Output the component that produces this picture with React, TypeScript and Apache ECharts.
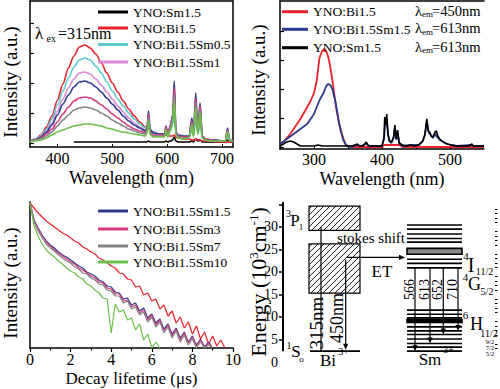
import React, { useEffect, useRef } from 'react';
import * as echarts from 'echarts';

const FONT = 'Liberation Serif, Times New Roman, DejaVu Serif, serif';

// ---------- Panel 1: emission spectra (λex = 315 nm) ----------
const X1 = [350,360,370,380,390,400,410,420,430,440,
  450,460,470,480,490,500,510,520,530,540,
  550,560,563,566,569,575,585,595,598,601,
  606,610,613,616,620,630,640,645,648,652,
  656,660,664,670,680,690,700,706,710,714,
  720];
const X1_LABELS = [400, 500, 600, 700];
const EM_SM15 = [null,null,null,null,null,null,null,null,1,1, 1,1,1,1,1,1,1,1,1,1, 1,1,1,2,1,1,1,1,2,1, 2,3,6,2,1,1,1,2,1,4, 2,3,1,1,1,1,1,1,3,1, 1];
const EM_BI15 = [2,4,8,16,27,43,59,75,87,96, 98,95,89,80,70,60,51,42,34,27, 21,16,15,14,13,11,9,8,8,7, 7,7,8,6,5,4,4,3,3,4, 3,3,2,2,2,1,1,1,1,1, 1];
const EM_SM05 = [2,4,7,14,24,38,52,65,76,83, 85,83,77,70,61,52,44,37,30,24, 19,15,15,22,14,11,9,9,13,9, 12,18,30,10,7,6,6,12,8,22, 9,17,6,4,3,3,2,2,7,2, 2];
const EM_SM1 = [2,3,6,12,20,32,44,55,64,70, 71,69,64,58,51,44,37,31,25,20, 16,13,14,27,13,10,9,9,15,9, 15,24,46,10,7,6,6,17,8,35, 10,28,6,4,3,3,2,2,10,2, 2];
const EM_SM15B = [2,3,6,11,18,28,39,48,56,61, 62,60,56,51,45,39,33,27,22,18, 15,12,14,32,13,10,9,9,17,9, 18,28,62,11,8,7,7,25,9,50, 12,40,7,4,3,3,2,2,15,3, 2];
const EM_SM3 = [2,3,5,9,14,21,29,36,42,45, 46,45,42,38,34,29,25,21,17,14, 12,10,12,29,11,8,8,8,16,8, 17,26,55,10,7,6,6,22,8,45, 11,37,6,4,3,2,2,2,13,2, 2];
const EM_SM7 = [2,3,4,7,11,17,23,28,33,35, 36,35,33,30,27,23,20,17,14,12, 10,9,11,26,10,7,7,7,14,7, 15,24,48,9,6,5,5,20,7,40, 10,33,5,3,2,2,2,2,12,2, 2];
const EM_SM10 = [1,2,3,5,8,11,13,15,17,18, 19,19,18,17,15,14,12,11,10,9, 8,7,9,22,8,6,6,6,13,6, 13,21,42,8,5,4,5,18,6,36, 9,30,5,3,2,2,2,2,11,2, 2];

// ---------- Panel 2: excitation spectra ----------
const X2_LABELS = [300, 400, 500];
const EX_BI15 = [[250,3],[255,5],[260,9],[265,13],[270,18],[275,23],[280,28],[285,34],[290,40],[295,46],[300,54],[304,66],[308,89],[312,96],[315,98],[318,96],[321,90],[324,80],[328,62],[333,37],[337,24],[341,13],[346,3],[350,1],[356,0],[400,0],[403,2],[426,2],[430,0],[550,0]];
const EX_BI15SM15 = [[250,3],[260,8],[270,13],[280,18],[290,23],[295,28],[300,33],[304,40],[309,48],[314,54],[318,61],[321,63],[324,62],[327,58],[331,47],[334,36],[336,27],[339,17],[343,7],[348,1],[355,0],[360,1],[364,2],[368,1],[377,3],[382,1],[400,1],[403,8],[405,28],[407,25],[409,12],[411,6],[414,4],[417,9],[419,19],[421,7],[423,14],[426,3],[430,1],[442,2],[454,2],[460,6],[463,12],[466,24],[469,14],[472,12],[475,9],[478,13],[481,10],[485,7],[490,5],[496,3],[502,2],[510,1],[532,2],[536,1],[550,1]];
const EX_SM15 = [[250,1],[255,3],[260,5],[265,6],[270,5],[275,3],[280,1],[290,1],[300,1],[306,2],[312,1],[330,1],[350,1],[356,1],[360,2],[364,3],[367,1],[372,1],[377,5],[380,1],[394,1],[400,1],[403,10],[404,30],[406,22],[407,33],[409,12],[411,6],[414,5],[417,10],[419,22],[421,8],[423,17],[425,4],[430,2],[436,1],[442,2],[448,1],[454,2],[460,6],[463,12],[465,24],[466,28],[468,16],[470,15],[472,11],[475,10],[478,15],[480,16],[482,11],[485,8],[490,5],[496,3],[502,2],[510,1],[520,1],[528,1],[532,3],[534,1],[550,1]];
const EM_WAVELENGTHS = ['450', '613', '613'];

// ---------- Panel 3: decay curves ----------
const T3 = [0,0.2,0.4,0.6,0.8,1,1.2,1.4,1.6,1.8,2,2.2,2.4,2.6,2.8,3,3.2,3.4,3.6,3.8,4,4.2,4.4,4.6,4.8,5,5.2,5.4,5.6,5.8,6,6.2,6.4,6.6,6.8,7,7.2,7.4,7.6,7.8,8,8.2,8.4,8.6,8.8,9,9.2,9.4,9.6,9.8,10];
const DEC_BI15 = [145,140,135,131,127,124, 121,118,115,113,110, 107,105,101,99,96, 94,90,88,85,82, 80,75,74,69,68, 61,62,53,55,47, 49,39,43,32,37, 25,31,20,26,14, 22,9,16,4,12, 2,8,0,null,null];
const DEC_SM15 = [145,128,120,113,107,103, 100,96,93,91,88, 85,82,80,76,74, 72,68,66,62,61, 56,55,49,50,43, 45,37,40,30,34, 25,29,19,24,14, 20,10,16,6,12, 3,9,1,6,0, null,null,null,null,null];
const DEC_SM3 = [145,127,119,112,106,102, 98,95,92,89,86, 84,80,78,75,72, 70,66,65,60,59, 54,54,47,48,41, 43,35,38,28,33, 23,28,17,23,12, 19,8,15,5,11, 2,8,0,5,0, null,null,null,null,null];
const DEC_SM7 = [145,126,117,110,104,100, 97,93,90,87,85, 81,79,75,74,70, 68,64,63,58,57, 52,52,45,47,39, 41,33,36,26,31, 21,26,15,21,10, 17,6,13,3,9, 0,6,0,3,0, null,null,null,null,null];
const DEC_SM10 = [145,122,112,104,98,94, 91,87,84,80,77, 75,71,69,64,62, 58,55,50,49,15, 44,36,38,28,30, 18,24,8,14,0, 6,0,null,null,null, null,null,null,null,null, null,null,null,null,null, null,null,null,null,null];

// ---------- Panel 4: energy level diagram (10^3 cm^-1) ----------
const ENERGY_LABELS = [0, 5, 10, 15, 20, 25, 30];
const ENERGY_MAJOR = [5, 10, 15, 20, 25, 30, 35];
const ENERGY_MINOR = [3,4,6,7,8,9,11,12,13,14,16,17,18,19,21,22,23,24,26,27,28,29,31,32,33,34];
const BI_BAND_E = [[29.2, 34.6], [15.3, 26.2]];
const BI_GROUND_E = 2.4;
const EXC_TOP_E = 30.0;
const BI_EMIT_E = [22.7, 2.7];
const ET_E = 23.2;
const SM_LEVEL_E = [30.4, 29.5, 28.4, 27.4, 26.6, 22.8, 21.9, 20.9, 11.5, 10.6, 9.8, 7.8, 6.9, 6.1, 5.1, 4.1, 3.3, 2.4];
const SM_BAND_E = [[23.9, 25.2], [8.8, 9.5]];
const G52_E = 20.9;
const EMISSION_NM = ['566', '613', '652', '710'];
const EMISSION_END_E = [2.4, 4.1, 6.1, 6.9];
const AXIS_E = [2.4, 35.5];

// layout of the diagram (horizontal units ≈ px right of the energy axis)
const BI_X = [26, 77];
const SM_X = [124, 179];
const EXC_X = 38;
const EMIT_X = 62.7;
const ET_X = [63.7, 122];
const EMISSION_X = [132, 147, 160.3, 175];

const C = {
  black: '#000000', red: '#e8232b', cyan: '#5cc9cf', pink: '#d78ad6',
  navy: '#2e3a8c', crimson: '#d63a80', gray: '#858585', green: '#6cc04a',
};

function lineSeries(name, data, color, xi, yi, width, smooth) {
  return {
    type: 'line', name, data, xAxisIndex: xi, yAxisIndex: yi,
    symbol: 'none', showSymbol: false, silent: true,
    smooth: smooth || false, smoothMonotone: 'x',
    lineStyle: { color, width }, itemStyle: { color },
    connectNulls: false,
  };
}

function arrowParts(p0, p1, head, lw) {
  const dx = p1[0] - p0[0], dy = p1[1] - p0[1];
  const len = Math.hypot(dx, dy) || 1;
  const ux = dx / len, uy = dy / len;
  const L = 6, W = 2.6;
  const out: any[] = [];
  const end = head ? [p1[0] - ux * L * 0.7, p1[1] - uy * L * 0.7] : p1;
  out.push({ type: 'line', shape: { x1: p0[0], y1: p0[1], x2: end[0], y2: end[1] }, style: { stroke: '#000', lineWidth: lw } });
  if (head) {
    out.push({ type: 'polygon', shape: { points: [[p1[0], p1[1]], [p1[0] - ux * L - uy * W, p1[1] - uy * L + ux * W], [p1[0] - ux * L + uy * W, p1[1] - uy * L - ux * W]] }, style: { fill: '#000' } });
  }
  return out;
}

function txt(text, x, y, size, align = 'left', rot = 0) {
  return {
    type: 'text', x, y, rotation: rot, silent: true,
    style: { text, fontSize: size, fontFamily: FONT, fill: '#000', align, verticalAlign: 'middle' },
  };
}

function buildOption() {
  const axisLine = { show: true, onZero: false, lineStyle: { color: '#000', width: 1.5 } };
  const labelStyle = { color: '#000', fontFamily: FONT, fontSize: 16, lineHeight: 13 };
  const nameStyle = { color: '#000', fontFamily: FONT, fontSize: 19 };
  const frame = (gi, pos) => ({
    gridIndex: gi, type: 'value', position: pos, min: 0, max: 1,
    axisLine, axisTick: { show: false }, axisLabel: { show: false }, splitLine: { show: false },
  });
  const mk1 = (ys) => X1.map((x, i) => [x, ys[i]]);
  const mk3 = (ys) => T3.map((t, i) => [t, ys[i]]);

  const legendCommon = {
    orient: 'horizontal', itemWidth: 30, itemHeight: 3, icon: 'rect', padding: 0, itemGap: 0,
    selectedMode: false,
    textStyle: { fontFamily: FONT, fontSize: 13.5, color: '#000', lineHeight: 12 },
  };
  const legends = [
    { ...legendCommon, data: ['YNO:Sm1.5'], left: 98, top: 5 },
    { ...legendCommon, data: ['YNO:Bi1.5'], left: 98, top: 21 },
    { ...legendCommon, data: ['YNO:Bi1.5Sm0.5'], left: 98, top: 37.5 },
    { ...legendCommon, data: ['YNO:Bi1.5Sm1'], left: 98, top: 55 },
    { ...legendCommon, itemWidth: 26, data: ['YNO:Bi1.5'], left: 282, top: 4.7 },
    { ...legendCommon, itemWidth: 26, data: ['YNO:Bi1.5Sm1.5'], left: 282, top: 22.3 },
    { ...legendCommon, itemWidth: 26, data: ['YNO:Sm1.5'], left: 282, top: 40.7 },
    { ...legendCommon, data: ['YNO:Bi1.5Sm1.5'], left: 98, top: 204 },
    { ...legendCommon, data: ['YNO:Bi1.5Sm3'], left: 98, top: 222 },
    { ...legendCommon, data: ['YNO:Bi1.5Sm7'], left: 98, top: 239 },
    { ...legendCommon, data: ['YNO:Bi1.5Sm10'], left: 98, top: 255 },
  ];

  const graphics: any[] = [
    txt('λ', 35, 33, 17), txt('ex', 46.5, 38.5, 10), txt('=315nm', 58, 33, 16),
  ];
  [10.7, 28.3, 46.7].forEach((y, i) => {
    graphics.push(txt('λ', 415, y, 14.5), txt('em', 422, y + 3.5, 9), txt('=' + EM_WAVELENGTHS[i] + 'nm', 432, y, 14.5));
  });
  graphics.push(
    txt('3', 288.5, 213, 10, 'center'), txt('P', 295, 220, 17, 'center'), txt('1', 301, 226.5, 9, 'center'),
    txt('1', 289, 345, 10, 'center'), txt('S', 296, 351, 17, 'center'), txt('o', 301.5, 358.5, 9, 'center'),
    txt('315nm', 316, 323, 19, 'center', Math.PI / 2),
    txt('450nm', 337, 318, 18, 'center', Math.PI / 2),
    txt('stokes shift', 371, 238, 15, 'center'),
    txt('ET', 382, 271.5, 17, 'center'),
    txt('Bi', 328, 360, 17, 'center'), txt('3+', 343.5, 351, 10, 'center'),
    txt('Sm', 430, 359, 17, 'center'), txt('3+', 448.5, 349, 10, 'center'),
    txt('4', 466, 256, 11, 'center'), txt('I', 471, 265, 20, 'center'), txt('11/2', 484.5, 271.5, 10, 'center'),
    txt('4', 465.5, 277, 11, 'center'), txt('G', 474.5, 284, 18, 'center'), txt('5/2', 487, 291.5, 10, 'center'),
    txt('6', 465.5, 314.5, 11, 'center'), txt('H', 476.5, 323.5, 18, 'center'), txt('11/2', 489, 333.3, 10, 'center'),
    txt('9/2', 490, 341.8, 6.5, 'center'), txt('7/2', 490, 347.6, 6.5, 'center'), txt('5/2', 490, 353.4, 6.5, 'center'),
  );

  const custom = (data, renderItem, encode = { x: 0, y: 1 }) => ({
    type: 'custom', xAxisIndex: 5, yAxisIndex: 4, data, renderItem, encode, silent: true, clip: false,
  });

  const boxSeries = custom(BI_BAND_E.map((b) => [BI_X[0], b[0], BI_X[1], b[1]]), (params, api) => {
    const a = api.coord([api.value(0), api.value(3)]);
    const b = api.coord([api.value(2), api.value(1)]);
    const L = a[0], T = a[1], R = b[0], B = b[1];
    const children: any[] = [];
    const s = 6;
    for (let k = L + T + s / 2; k < R + B; k += s) {
      const xa = Math.max(L, k - B), xb = Math.min(R, k - T);
      if (xb > xa) children.push({ type: 'line', shape: { x1: xa, y1: k - xa, x2: xb, y2: k - xb }, style: { stroke: '#000', lineWidth: 0.9 } });
    }
    children.push({ type: 'rect', shape: { x: L, y: T, width: R - L, height: B - T }, style: { fill: 'none', stroke: '#000', lineWidth: 1.2 } });
    return { type: 'group', children };
  }, { x: [0, 2], y: [1, 3] });

  const levelData = SM_LEVEL_E.map((e) => [SM_X[0], e, SM_X[1]]);
  levelData.push([BI_X[0] + 1, BI_GROUND_E, BI_X[1]]);
  const levelSeries = custom(levelData, (params, api) => {
    const a = api.coord([api.value(0), api.value(1)]);
    const b = api.coord([api.value(2), api.value(1)]);
    return { type: 'line', shape: { x1: a[0], y1: a[1], x2: b[0], y2: b[1] }, style: { stroke: '#000', lineWidth: 1.7 } };
  }, { x: [0, 2], y: 1 });

  const bandSeries = custom(SM_BAND_E.map((b, i) => [SM_X[0], b[0], SM_X[1], b[1], i]), (params, api) => {
    const a = api.coord([api.value(0), api.value(3)]);
    const b = api.coord([api.value(2), api.value(1)]);
    const dark = api.value(4) === 1;
    return { type: 'rect', shape: { x: a[0], y: a[1], width: b[0] - a[0], height: b[1] - a[1] }, style: { fill: dark ? '#000' : '#8a8a8a', stroke: '#000', lineWidth: 1.6 } };
  }, { x: [0, 2], y: [1, 3] });

  const arrowData = [
    [0, AXIS_E[0], 0, AXIS_E[1], 0, 2],
    [EXC_X, BI_GROUND_E, EXC_X, EXC_TOP_E, 0, 1.2],
    [EMIT_X, BI_EMIT_E[0], EMIT_X, BI_EMIT_E[1], 1, 1.2],
    [ET_X[0], ET_E, ET_X[1], ET_E, 1, 1.2],
  ];
  const arrowSeries = custom(arrowData, (params, api) => {
    const p0 = api.coord([api.value(0), api.value(1)]);
    const p1 = api.coord([api.value(2), api.value(3)]);
    return { type: 'group', children: arrowParts(p0, p1, api.value(4) === 1, api.value(5)) };
  }, { x: [0, 2], y: [1, 3] });

  const emissionSeries = custom(EMISSION_X.map((x, i) => [x, G52_E, EMISSION_END_E[i]]), (params, api) => {
    const x = api.value(0);
    const p0 = api.coord([x, api.value(1)]);
    const p1 = api.coord([x, api.value(2)]);
    const lp = api.coord([x, 16.1]);
    const children = arrowParts(p0, p1, true, 1.2);
    children.push({
      type: 'text', x: lp[0] - 5.8, y: lp[1], rotation: Math.PI / 2,
      style: { text: EMISSION_NM[params.dataIndex], fontSize: 14, fontFamily: FONT, fill: '#000', align: 'center', verticalAlign: 'middle' },
    });
    return { type: 'group', children };
  }, { x: 0, y: [1, 2] });

  return {
    animation: false,
    backgroundColor: '#ffffff',
    textStyle: { fontFamily: FONT },
    legend: legends,
    graphic: graphics,
    grid: [
      { left: 30, top: 1, width: 203, height: 146, containLabel: false, outerBoundsMode: 'none' },
      { left: 280, top: 1, width: 204, height: 148, containLabel: false, outerBoundsMode: 'none' },
      { left: 30, top: 202, width: 203, height: 146, containLabel: false, outerBoundsMode: 'none' },
      { left: 283, top: 202, width: 212, height: 160, containLabel: false, outerBoundsMode: 'none' },
    ],
    xAxis: [
      {
        gridIndex: 0, type: 'value', min: 350, max: 720, axisLine,
        axisTick: { show: true, inside: true, length: 3, customValues: X1_LABELS, lineStyle: { color: '#000' } },
        axisLabel: { ...labelStyle, customValues: X1_LABELS, margin: 5 },
        splitLine: { show: false },
        name: 'Wavelength (nm)', nameLocation: 'middle', nameGap: 24.5, nameMoveOverlap: false,
        nameTextStyle: { ...nameStyle, fontSize: 18, lineHeight: 13 },
      },
      frame(0, 'top'),
      {
        gridIndex: 1, type: 'value', min: 250, max: 550, axisLine,
        axisTick: { show: true, inside: true, length: 3, customValues: [300, 350, 400, 450, 500], lineStyle: { color: '#000' } },
        axisLabel: { ...labelStyle, customValues: X2_LABELS, margin: 4 },
        splitLine: { show: false },
        name: 'Wavelength (nm)', nameLocation: 'middle', nameGap: 23.5, nameMoveOverlap: false,
        nameTextStyle: { ...nameStyle, fontSize: 18, lineHeight: 13 },
      },
      frame(1, 'top'),
      {
        gridIndex: 2, type: 'value', min: 0, max: 10, interval: 2, axisLine,
        axisTick: { show: true, inside: false, length: 4, lineStyle: { color: '#000', width: 1.2 } },
        minorTick: { show: true, splitNumber: 2, length: 2.5, lineStyle: { color: '#000', width: 1.2 } },
        axisLabel: { ...labelStyle, margin: 5 },
        splitLine: { show: false },
        name: 'Decay lifetime (μs)', nameLocation: 'middle', nameGap: 24.2, nameMoveOverlap: false,
        nameTextStyle: { ...nameStyle, fontSize: 17, lineHeight: 13 },
      },
      { gridIndex: 3, type: 'value', min: 0, max: 212, show: false },
    ],
    yAxis: [
      {
        gridIndex: 0, type: 'value', min: -4, max: 142, axisLine,
        axisTick: { show: true, inside: true, length: 4, customValues: [0, 30, 60, 90, 120], lineStyle: { color: '#000', width: 1.2 } },
        axisLabel: { show: false }, splitLine: { show: false },
        name: 'Intensity (a.u.)', nameLocation: 'middle', nameRotate: 90, nameGap: 10, nameMoveOverlap: false,
        nameTextStyle: { ...nameStyle, padding: [0, 16, 0, 0] },
      },
      frame(0, 'right'),
      {
        gridIndex: 1, type: 'value', min: -2, max: 146, axisLine,
        axisTick: { show: true, inside: true, length: 4, customValues: [0, 29, 58, 87, 116], lineStyle: { color: '#000', width: 1.2 } },
        axisLabel: { show: false }, splitLine: { show: false },
        name: 'Intensity (a.u.)', nameLocation: 'middle', nameRotate: 90, nameGap: 12, nameMoveOverlap: false,
        nameTextStyle: { ...nameStyle, padding: [0, 10, 0, 0] },
      },
      {
        gridIndex: 2, type: 'value', min: 0, max: 146, axisLine,
        axisTick: { show: false }, axisLabel: { show: false }, splitLine: { show: false },
        name: 'Intensity (a.u.)', nameLocation: 'middle', nameRotate: 90, nameGap: 10, nameMoveOverlap: false,
        nameTextStyle: { ...nameStyle, padding: [0, 16, 0, 0] },
      },
      {
        gridIndex: 3, type: 'value', min: 0, max: 35.5,
        axisLine: { show: false, onZero: false },
        axisTick: { show: true, inside: false, length: 4, customValues: ENERGY_MAJOR, lineStyle: { color: '#000', width: 1.5 } },
        axisLabel: { color: '#000', fontFamily: FONT, fontSize: 14, customValues: ENERGY_LABELS, margin: 5 },
        splitLine: { show: false },
        name: '{a|Energy (10}{s|3}{a|cm}{s|-1}{a|)}', nameLocation: 'middle', nameRotate: 90, nameGap: 14, nameMoveOverlap: false,
        nameTextStyle: {
          rich: {
            a: { fontSize: 22, fontFamily: FONT, color: '#000' },
            s: { fontSize: 13, fontFamily: FONT, color: '#000', verticalAlign: 'top' },
          },
        },
      },
      {
        gridIndex: 3, type: 'value', min: 0, max: 35.5,
        axisLine: { show: false, onZero: false },
        axisTick: { show: true, inside: false, length: 2.5, customValues: ENERGY_MINOR, lineStyle: { color: '#000', width: 1 } },
        axisLabel: { show: false }, splitLine: { show: false },
      },
    ],
    series: [
      lineSeries('YNO:Sm1.5', mk1(EM_SM15), C.black, 0, 0, 1.6, 0.3),
      lineSeries('YNO:Bi1.5', mk1(EM_BI15), C.red, 0, 0, 1.6, 0.3),
      lineSeries('YNO:Bi1.5Sm0.5', mk1(EM_SM05), C.cyan, 0, 0, 1.6, 0.3),
      lineSeries('YNO:Bi1.5Sm1', mk1(EM_SM1), C.pink, 0, 0, 1.6, 0.3),
      lineSeries('YNO:Bi1.5Sm1.5', mk1(EM_SM15B), C.navy, 0, 0, 1.6, 0.3),
      lineSeries('YNO:Bi1.5Sm3', mk1(EM_SM3), C.crimson, 0, 0, 1.6, 0.3),
      lineSeries('YNO:Bi1.5Sm7', mk1(EM_SM7), C.gray, 0, 0, 1.6, 0.3),
      lineSeries('YNO:Bi1.5Sm10', mk1(EM_SM10), C.green, 0, 0, 1.6, 0.3),

      lineSeries('YNO:Bi1.5', EX_BI15, C.red, 2, 2, 1.8, false),
      lineSeries('YNO:Bi1.5Sm1.5', EX_BI15SM15, C.navy, 2, 2, 1.8, false),
      lineSeries('YNO:Sm1.5', EX_SM15, C.black, 2, 2, 1.6, false),

      lineSeries('YNO:Bi1.5', mk3(DEC_BI15), C.red, 4, 3, 1.2, false),
      lineSeries('YNO:Bi1.5Sm1.5', mk3(DEC_SM15), C.navy, 4, 3, 1.2, false),
      lineSeries('YNO:Bi1.5Sm3', mk3(DEC_SM3), C.crimson, 4, 3, 1.2, false),
      lineSeries('YNO:Bi1.5Sm7', mk3(DEC_SM7), C.gray, 4, 3, 1.2, false),
      lineSeries('YNO:Bi1.5Sm10', mk3(DEC_SM10), C.green, 4, 3, 1.2, false),

      boxSeries, levelSeries, bandSeries, arrowSeries, emissionSeries,
    ],
  };
}

export default function App() {
  const ref = useRef<HTMLDivElement>(null);
  useEffect(() => {
    document.body.style.margin = '0';
    const chart = echarts.init(ref.current as HTMLDivElement, null, { renderer: 'svg' });
    chart.setOption(buildOption() as any);
    return () => chart.dispose();
  }, []);
  return (
    <>
      <style>{"#root svg text, #root svg tspan { font-family: 'Liberation Serif', 'Times New Roman', 'DejaVu Serif', serif !important; }"}</style>
      <div ref={ref} style={{ position: 'fixed', left: 0, top: 0, width: 500, height: 389, background: '#fff' }} />
    </>
  );
}
